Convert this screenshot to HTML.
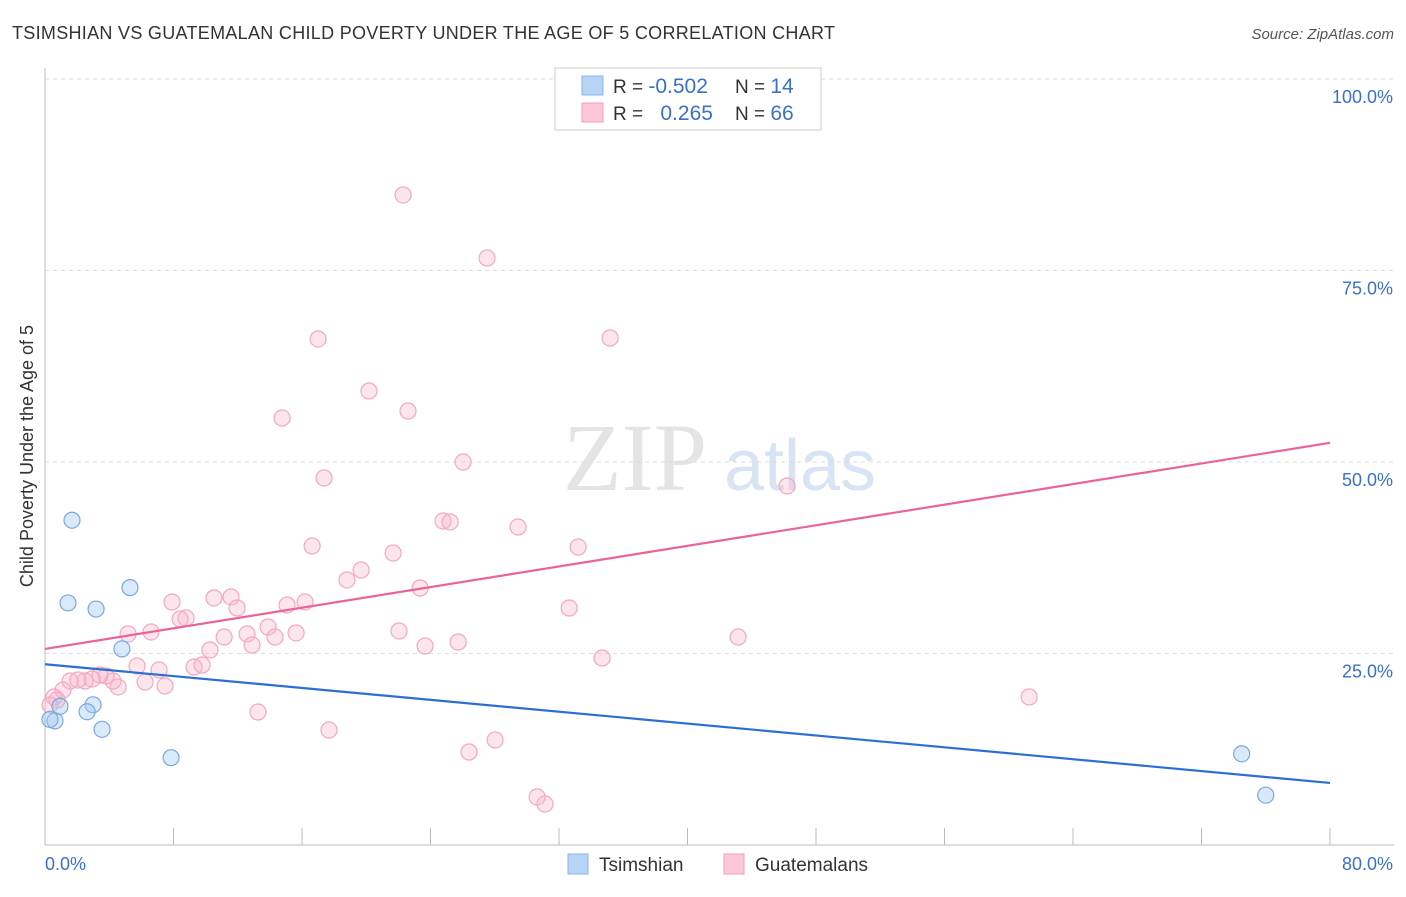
<!DOCTYPE html>
<html><head><meta charset="utf-8"><style>
body{margin:0;background:#fff;font-family:"Liberation Sans",sans-serif;}
</style></head><body>
<svg id="chart" width="1406" height="892" xmlns="http://www.w3.org/2000/svg" font-family="Liberation Sans, sans-serif">
<text x="12" y="39" font-size="18" fill="#333" textLength="823" lengthAdjust="spacing">TSIMSHIAN VS GUATEMALAN CHILD POVERTY UNDER THE AGE OF 5 CORRELATION CHART</text>
<text x="1394" y="39" font-size="15" fill="#555" font-style="italic" text-anchor="end">Source: ZipAtlas.com</text>
<text transform="translate(33,456) rotate(-90)" font-size="18" fill="#333" text-anchor="middle">Child Poverty Under the Age of 5</text>
<g>
<text x="635" y="490" font-size="96" fill="#e4e4e4" font-family="Liberation Serif, serif" text-anchor="middle">ZIP</text>
<text x="800" y="490" font-size="72" fill="#d8e4f4" text-anchor="middle">atlas</text>
</g>
<g id="grid"></g>
<g id="axes"></g>
<g id="marks"></g>
<g>
<rect x="555" y="68" width="266" height="62" fill="#fff" stroke="#ccc"/>
<rect x="582" y="76" width="21" height="19" fill="#b8d4f4" stroke="#8ab4e8"/>
<rect x="582" y="103" width="21" height="19" fill="#fcc8d8" stroke="#f0a0b8"/>
<text x="613" y="93" font-size="19" fill="#333">R = <tspan fill="#3a6fd0" font-size="21">-0.502</tspan></text>
<text x="735" y="93" font-size="19" fill="#333">N = <tspan fill="#3a6fd0" font-size="21"> 14</tspan></text>
<text x="613" y="120" font-size="19" fill="#333">R = <tspan fill="#3a6fd0" dx="12" font-size="21">0.265</tspan></text>
<text x="735" y="120" font-size="19" fill="#333">N = <tspan fill="#3a6fd0" font-size="21">66</tspan></text>
</g>
<g>
<rect x="568" y="854" width="20" height="20" fill="#b8d4f4" stroke="#8ab4e8"/>
<text x="599" y="871" font-size="19" fill="#333">Tsimshian</text>
<rect x="724" y="854" width="20" height="20" fill="#fcc8d8" stroke="#f0a0b8"/>
<text x="755" y="871" font-size="19" fill="#333">Guatemalans</text>
</g>
</svg>
<script>
const tsX=[1.68,1.43,3.18,5.29,4.79,2.99,2.62,0.93,0.62,0.31,3.55,7.85,74.5,76.0];
const tsY=[42.4,31.6,30.8,33.6,25.6,18.3,17.4,18.1,16.2,16.4,15.1,11.4,11.9,6.5];
const guX=[22.29,27.52,17.0,35.18,20.17,14.76,22.60,26.03,17.37,46.20,24.78,25.22,29.45,16.63,21.67,33.19,19.68,18.80,23.35,7.91,10.52,11.58,11.96,8.78,8.41,15.07,16.19,32.63,5.17,6.60,12.58,11.15,13.89,14.32,15.63,22.04,23.66,25.72,12.89,10.27,43.15,34.68,5.73,7.10,9.28,9.78,7.47,6.23,4.55,4.23,3.80,3.42,2.93,2.49,2.05,1.56,1.12,0.56,0.75,0.31,13.26,17.68,26.40,28.02,61.27,30.64,31.13];
const guY=[84.86,76.63,66.06,66.19,59.27,55.74,56.66,50.0,47.91,46.87,42.30,42.17,41.51,39.03,38.12,38.90,35.90,34.60,33.55,31.72,32.25,32.38,30.94,29.63,29.50,31.33,31.72,30.94,27.55,27.81,27.55,27.15,28.46,27.15,27.68,27.94,25.98,26.50,26.11,25.46,27.15,24.41,23.37,22.85,23.24,23.50,20.76,21.28,20.63,21.41,22.06,22.19,21.67,21.41,21.54,21.41,20.23,19.32,18.93,18.28,17.36,15.01,12.14,13.71,19.32,6.27,5.35];
const tsTrend=[23.6,8.1];
const guTrend=[25.6,52.5];
const yTicks=[25,50,75,100];
const yTickLabels=["25.0%","50.0%","75.0%","100.0%"];
const xTickLabels=["0.0%","80.0%"];
const NS="http://www.w3.org/2000/svg";
const X0=45,X1=1330,Y0=845,Y100=79;
const sx=v=>X0+(X1-X0)*v/80;
const sy=v=>Y0-(Y0-Y100)*v/100;
function mk(tag,attrs,parent){const e=document.createElementNS(NS,tag);for(const k in attrs)e.setAttribute(k,attrs[k]);document.getElementById(parent).appendChild(e);return e;}
yTicks.forEach((t,i)=>{
 const l=mk('line',{x1:X0,x2:1394,y1:sy(t),y2:sy(t),stroke:'#ddd','stroke-dasharray':'4,4'},'grid');
 
 
 const tx=mk('text',{x:1393,y:sy(t)+24,'font-size':18,fill:'#3a6fd0','text-anchor':'end'},'axes');
 tx.textContent=yTickLabels[i];
 
 
});
const ax=mk('line',{x1:X0,x2:X0,y1:68,y2:Y0,stroke:'#bbb'},'axes');


const bx=mk('line',{x1:X0,x2:1394,y1:Y0,y2:Y0,stroke:'#bbb'},'axes');


for(let i=0;i<=10;i++){
 const t=mk('line',{x1:sx(i*8),x2:sx(i*8),y1:828,y2:Y0,stroke:'#bbb'},'axes');
 
 
}
[[0,'start',45],[80,'end',1393]].forEach((d,i)=>{
 const t=mk('text',{x:d[2],y:870,'font-size':18,fill:'#3a6fd0','text-anchor':d[1]},'axes');
 t.textContent=xTickLabels[i];
 
 
});
guX.forEach((v,i)=>{
 const c=mk('circle',{cx:sx(v),cy:sy(guY[i]),r:8,fill:'rgba(248,180,200,0.35)',stroke:'#f2a8c0','stroke-width':1.2},'marks');
 
 
});
tsX.forEach((v,i)=>{
 const c=mk('circle',{cx:sx(v),cy:sy(tsY[i]),r:8,fill:'rgba(160,200,240,0.4)',stroke:'#7aa8e0','stroke-width':1.2},'marks');
 
 
});
const l1=mk('line',{x1:sx(0),y1:sy(guTrend[0]),x2:sx(80),y2:sy(guTrend[1]),stroke:'#e8649a','stroke-width':2.2},'marks');


const l2=mk('line',{x1:sx(0),y1:sy(tsTrend[0]),x2:sx(80),y2:sy(tsTrend[1]),stroke:'#2b6fd6','stroke-width':2.2},'marks');


</script>
</body></html>
